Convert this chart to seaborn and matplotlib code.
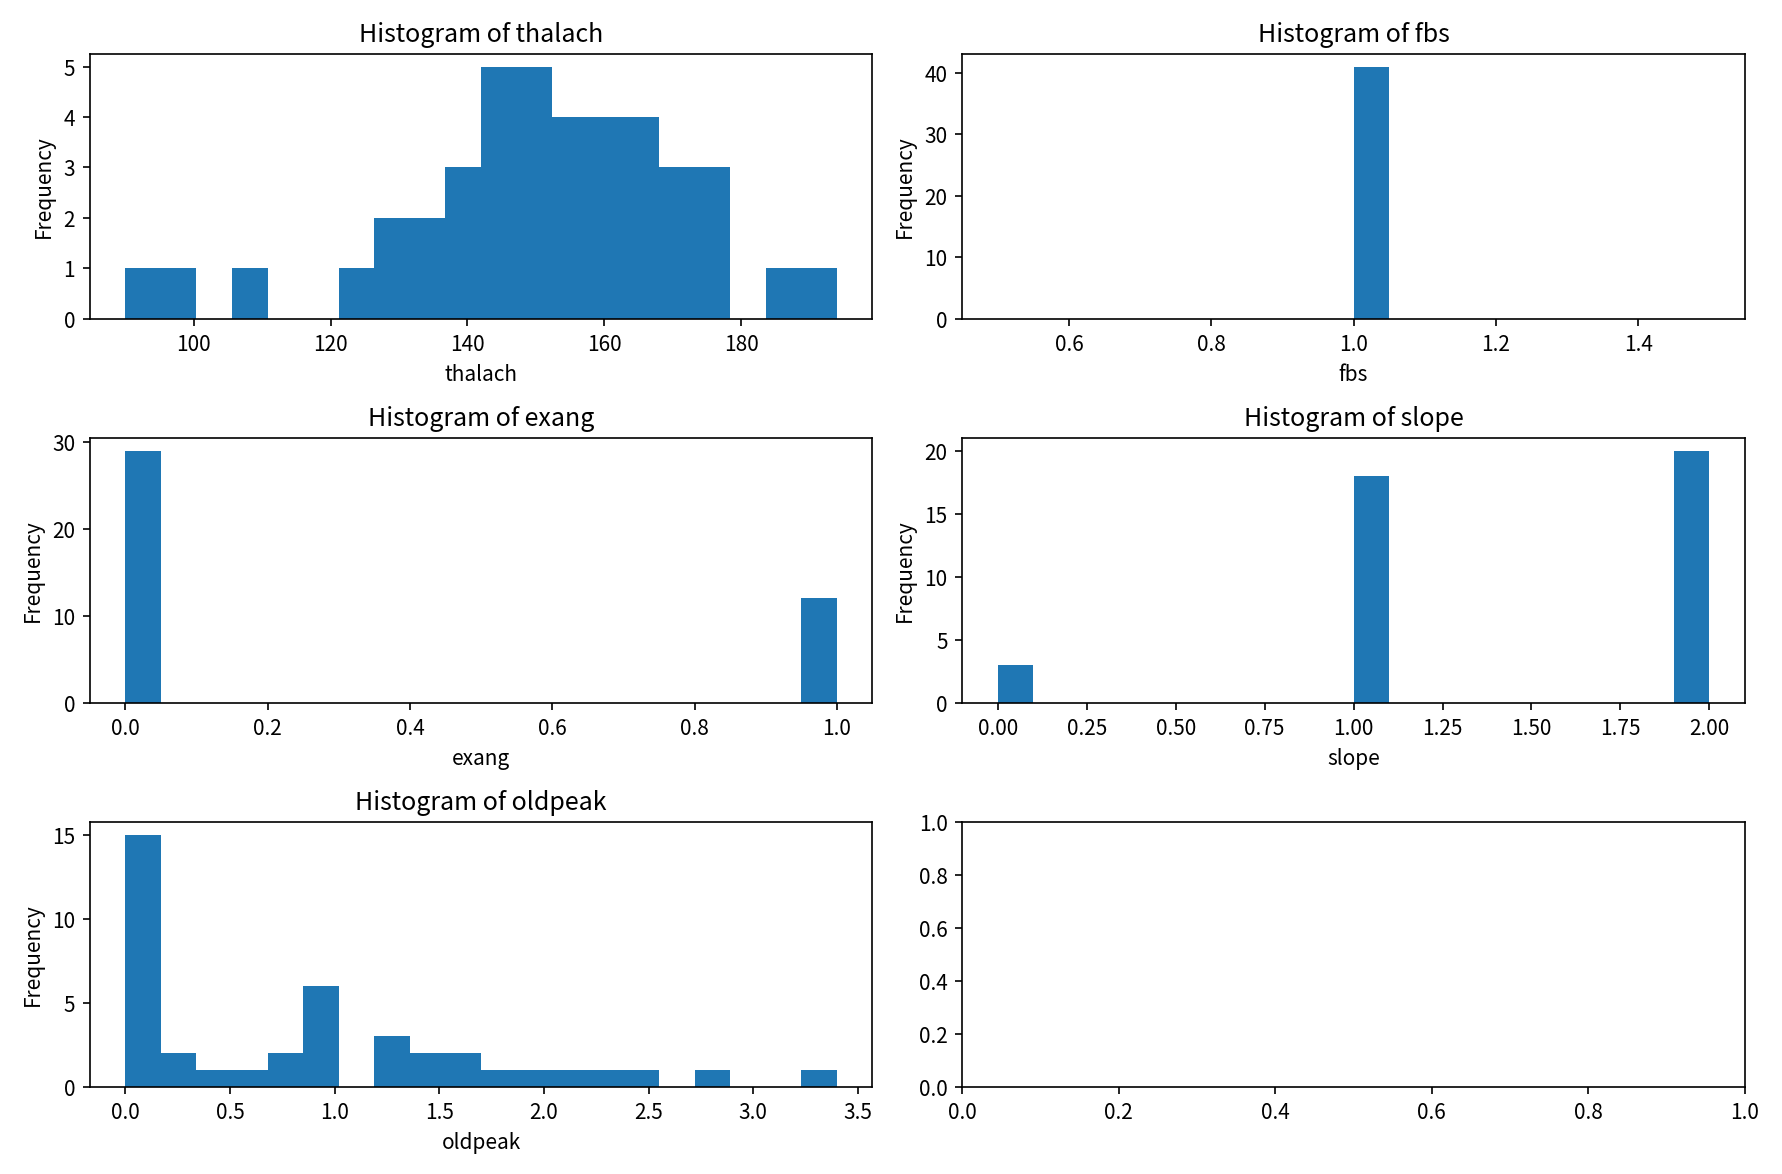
import numpy as np
import pandas as pd
import seaborn as sns
import matplotlib
matplotlib.use('Agg')
import matplotlib.pyplot as plt

plt.rcParams['font.family'] = ['Noto Sans CJK SC', 'DejaVu Sans']
plt.rcParams['axes.unicode_minus'] = False

# values (41 rows)
thalach = [90, 96, 108, 122, 128, 130, 132, 134, 138, 140, 141,
           143, 144, 145, 146, 147, 148, 150, 150, 151, 152,
           154, 155, 156, 157, 158, 160, 161, 162, 163, 165, 166, 167,
           170, 171, 172, 174, 175, 178, 186, 194]
fbs = [1] * 41
exang = [0] * 29 + [1] * 12
slope = [0] * 3 + [1] * 18 + [2] * 20
oldpeak = [0.0] * 15 + [0.2, 0.3, 0.4, 0.6, 0.8, 0.8, 0.9,
                        1.0, 1.0, 1.0, 1.0, 1.0, 1.2, 1.2, 1.3,
                        1.4, 1.5, 1.6, 1.6, 1.8, 2.0, 2.2, 2.3,
                        2.5, 2.8, 3.4]

df = pd.DataFrame({'thalach': thalach, 'fbs': fbs, 'exang': exang,
                   'slope': slope, 'oldpeak': oldpeak})
columns = ['thalach', 'fbs', 'exang', 'slope', 'oldpeak']

fig, axes = plt.subplots(3, 2, figsize=(11.88, 7.83))
axes = axes.flatten()

for i, col in enumerate(columns):
    ax = axes[i]
    sns.histplot(data=df, x=col, bins=20, ax=ax, color='#1f77b4',
                 alpha=1, linewidth=0)
    ax.set_title(f'Histogram of {col}')
    ax.set_xlabel(col)
    ax.set_ylabel('Frequency')

plt.tight_layout()
plt.savefig('out.png', dpi=150)
